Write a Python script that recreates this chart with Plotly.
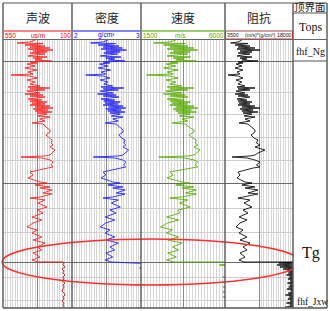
import numpy as np
import plotly.graph_objects as go

W, H = 330, 311

# ---------------- data (relative depth, m; 0 = top of window) ----------------
depth = [0, 2, 3, 3.5, 4, 5, 6, 7, 8, 9,
         10, 11, 12, 13, 14, 15, 16, 17, 18, 19,
         20, 21, 22, 23, 24, 26, 28, 30, 32, 34,
         35, 36, 38, 40, 42, 44, 46, 47, 48, 49,
         50, 51, 53, 54, 55, 56, 57, 59, 60, 61,
         62, 63, 64, 65, 66, 67, 68, 69, 70, 71,
         72, 73, 74, 76, 77, 79, 81, 82, 83, 84,
         86, 88, 90, 92, 95, 98, 100, 103, 105, 107,
         110, 113, 115, 116, 117, 117.5, 118, 120, 122, 125,
         127, 128, 130, 132, 135, 138, 140, 142, 143, 145,
         147, 148, 150, 153, 154, 157, 158, 160, 163, 167,
         170, 173, 177, 180, 183, 187, 190, 193, 197, 200,
         203, 207, 210, 213, 217, 220, 222]

sonic = [341, 374, 459, 289, 309, 407, 276, 374, 243, 387,
         224, 354, 263, 374, 276, 341, 387, 263, 354, 296,
         341, 230, 374, 328, 394, 341, 407, 328, 387, 354,
         498, 374, 328, 394, 341, 374, 309, 387, 243, 374,
         276, 394, 309, 407, 289, 374, 276, 387, 296, 374,
         263, 361, 276, 374, 243, 341, 224, 354, 257, 341,
         230, 328, 263, 322, 243, 309, 276, 322, 361, 289,
         276, 263, 243, 243, 270, 250, 230, 237, 224, 243,
         211, 230, 243, 276, 433, 354, 296, 243, 224, 237,
         224, 257, 322, 374, 354, 387, 348, 309, 263, 341,
         243, 309, 230, 289, 230, 309, 374, 276, 322, 263,
         328, 289, 361, 296, 354, 394, 328, 361, 296, 354,
         276, 328, 296, 354, 309, 361, 322]

density = [2.52, 2.45, 2.27, 2.63, 2.60, 2.38, 2.68, 2.45, 2.73, 2.42,
           2.79, 2.49, 2.70, 2.46, 2.66, 2.52, 2.41, 2.71, 2.49, 2.62,
           2.53, 2.77, 2.45, 2.55, 2.40, 2.52, 2.38, 2.56, 2.42, 2.49,
           2.20, 2.45, 2.55, 2.41, 2.52, 2.46, 2.59, 2.42, 2.75, 2.45,
           2.67, 2.41, 2.60, 2.37, 2.64, 2.45, 2.68, 2.42, 2.62, 2.46,
           2.70, 2.48, 2.67, 2.45, 2.74, 2.53, 2.78, 2.49, 2.71, 2.52,
           2.77, 2.55, 2.70, 2.57, 2.74, 2.59, 2.67, 2.57, 2.48, 2.64,
           2.67, 2.70, 2.74, 2.74, 2.68, 2.72, 2.77, 2.75, 2.78, 2.74,
           2.82, 2.77, 2.74, 2.67, 2.31, 2.49, 2.62, 2.74, 2.78, 2.75,
           2.78, 2.71, 2.57, 2.45, 2.49, 2.42, 2.51, 2.59, 2.70, 2.52,
           2.74, 2.59, 2.77, 2.64, 2.77, 2.59, 2.45, 2.67, 2.57, 2.70,
           2.55, 2.64, 2.48, 2.62, 2.49, 2.41, 2.55, 2.48, 2.62, 2.49,
           2.67, 2.55, 2.62, 2.49, 2.59, 2.48, 2.57]

velocity = [3360, 3040, 2190, 3880, 3690, 2710, 4010, 3040, 4340, 2900,
            4540, 3230, 4140, 3040, 4010, 3360, 2900, 4140, 3230, 3820,
            3360, 4470, 3040, 3490, 2840, 3360, 2710, 3490, 2900, 3230,
            1800, 3040, 3490, 2840, 3360, 3040, 3690, 2900, 4340, 3040,
            4010, 2840, 3690, 2710, 3880, 3040, 4010, 2900, 3820, 3040,
            4140, 3170, 4010, 3040, 4340, 3360, 4540, 3230, 4210, 3360,
            4470, 3490, 4140, 3560, 4340, 3690, 4010, 3560, 3170, 3880,
            4010, 4140, 4340, 4340, 4080, 4270, 4470, 4400, 4540, 4340,
            4670, 4470, 4340, 4010, 2450, 3230, 3820, 4340, 4540, 4400,
            4540, 4210, 3560, 3040, 3230, 2900, 3300, 3690, 4140, 3360,
            4340, 3690, 4470, 3880, 4470, 3690, 3040, 4010, 3560, 4140,
            3490, 3580, 2870, 3520, 2930, 2540, 3190, 2870, 3520, 2930,
            3710, 3190, 3520, 2930, 3390, 2870, 3260]

impedance = [7100, 6280, 4700, 8400, 7760, 5630, 8830, 6280, 9900, 6060,
             10960, 6700, 9260, 6280, 8830, 7100, 6060, 9260, 6700, 8200,
             7100, 10540, 6280, 7340, 5850, 7100, 5630, 7340, 6060, 6700,
             4140, 6280, 7340, 5850, 7100, 6280, 7760, 6060, 9900, 6280,
             8830, 5850, 7760, 5630, 8400, 6280, 8830, 6060, 8200, 6280,
             9260, 6500, 8830, 6280, 9900, 7100, 10960, 6700, 9500, 7100,
             10540, 7340, 9260, 7550, 9900, 7760, 8830, 7550, 6500, 8400,
             8830, 9260, 9900, 9900, 9050, 9700, 10540, 10200, 10960, 9900,
             12000, 10540, 9900, 8830, 5000, 6700, 8200, 9900, 10960, 10200,
             10960, 9500, 7550, 6280, 6700, 6060, 6900, 7760, 9260, 7100,
             9900, 7760, 10540, 8400, 10540, 7760, 6280, 8830, 7550, 9260,
             7340, 8400, 6500, 8200, 6700, 5850, 7340, 6500, 8200, 6700,
             8830, 7340, 8200, 6700, 7760, 6500, 7550]

# below Tg (fhf_Jxw)
depth_sonic_low = [222, 222, 223, 225, 227, 229, 231, 233, 235, 237, 239, 241, 243,
                   245, 247, 249, 251, 253, 255, 257, 259, 261, 263, 265, 267]
sonic_low = [322, 159, 152, 159, 146, 165, 152, 159, 146, 159, 152, 165, 146,
             159, 152, 159, 165, 152, 146, 159, 152, 165, 152, 159, 152]

depth_density_low = [222, 222, 224, 226, 228, 230]
density_low = [2.57, 2.99, 3.2, 3.3, 2.98, 3.2]

depth_velocity_low = [222, 222, 224, 225, 226, 236, 237, 238, 241, 242, 243,
                      246, 247, 248, 251, 252, 253, 256, 257, 258, 262]
velocity_low = [3260, 6300, 6300, 5700, 6300, 6300, 5880, 6300, 6300, 5880, 6300,
                6300, 5900, 6300, 6300, 5880, 6300, 6300, 5900, 6300, 6300]

depth_imp_low = [222, 222] + list(range(223, 268))
impedance_low = [7550, 19000,
                 15000, 18800, 14600, 18500, 15200, 19000, 15900, 18200, 16800, 18600,
                 17000, 18400, 16600, 18900, 17200, 18300, 16900, 18700, 17400, 18500,
                 16800, 18800, 17300, 18400, 17100, 18900, 16700, 18500, 17500, 18800,
                 17000, 18300, 16400, 18700, 17200, 18500, 16900, 18800, 17400, 18200,
                 16600, 18900, 17300, 18500, 16300]

track_titles = ["声波", "密度", "速度", "阻抗"]
scale_left = ["550", "2", "1500", "3500"]
scale_unit = ["us/m", "g/cm³", "m/s", "(m/s)*(g/cm³)"]
scale_right = ["100", "3", "6000", "18000"]
tops_labels = ["fhf_Ng", "Tg", "fhf_Jxw"]

# ---------------- layout geometry (pixels) ----------------
def px(x):
    return x / W

def py(y):
    return 1 - y / H

TOP, HDR, DATA_TOP, BOT = 3, 31, 40, 308
edges = [3, 72, 141, 225, 293]
RIGHT = 327
ranges = [[550, 100], [2, 3], [1500, 6000], [3500, 18000]]
colors = ["#ff1a1a", "#1a1aff", "#55aa00", "#000000"]
scale_line_colors = ["#ff5a5a", "#5a5aff", "#77c040", "#a04848"]
label_colors = ["#ff0000", "#0000ff", "#55aa00", "#111111"]

fig = go.Figure()

curves = [(sonic, depth, "x", colors[0]), (sonic_low, depth_sonic_low, "x", "#dd0000"),
          (density, depth, "x2", colors[1]), (density_low, depth_density_low, "x2", colors[1]),
          (velocity, depth, "x3", colors[2]), (velocity_low, depth_velocity_low, "x3", colors[2]),
          (impedance, depth, "x4", colors[3]), (impedance_low, depth_imp_low, "x4", colors[3])]
for xs, ds, xa, c in curves:
    fig.add_trace(go.Scatter(x=xs, y=ds, xaxis=xa, yaxis="y", mode="lines",
                             line=dict(color=c, width=0.85), showlegend=False,
                             hoverinfo="skip"))

layout = dict(width=W, height=H, margin=dict(l=0, r=0, t=0, b=0),
              paper_bgcolor="white", plot_bgcolor="white", showlegend=False)

ydom = [py(BOT), py(DATA_TOP)]
layout["yaxis"] = dict(domain=ydom, range=[268, 0], anchor="x",
                       tickmode="array", tickvals=[21, 143, 222],
                       showgrid=True, gridcolor="#6a6a6a", gridwidth=1,
                       showticklabels=False, zeroline=False, showline=False, ticks="",
                       minor=dict(tickmode="array", tickvals=[52, 74, 97, 120, 168, 192, 237, 260],
                                  showgrid=True, gridcolor="#cfcfcf", gridwidth=1, ticks=""))

for i in range(4):
    r = ranges[i]
    mid = (r[0] + r[1]) / 2
    minor_vals = list(np.linspace(r[0], r[1], 29)[1:-1])
    if i == 3:
        minor_vals = list(np.linspace(mid, r[1], 15)[1:-1])
    key = "xaxis" if i == 0 else f"xaxis{i+1}"
    layout[key] = dict(domain=[px(edges[i]), px(edges[i + 1])],
                       range=r, anchor="y", tickmode="array", tickvals=[mid],
                       showgrid=True, gridcolor="#8a8a8a", gridwidth=1,
                       showticklabels=False, zeroline=False, showline=False, ticks="",
                       minor=dict(tickmode="array", tickvals=minor_vals, showgrid=True,
                                  gridcolor="#d6d6d6", gridwidth=1, ticks=""))

shapes = []
def line(x0, y0, x1, y1, color="#555555", width=1.2):
    shapes.append(dict(type="line", xref="paper", yref="paper", x0=px(x0), y0=py(y0),
                       x1=px(x1), y1=py(y1), line=dict(color=color, width=width)))

# red ellipse around Tg
shapes.append(dict(type="circle", xref="paper", yref="paper", x0=px(2), x1=px(300),
                   y0=py(285), y1=py(239), line=dict(color="#ff3030", width=1.4)))
# tops column background covers ellipse end
shapes.append(dict(type="rect", xref="paper", yref="paper", x0=px(293.6), x1=px(326.4),
                   y0=py(307.4), y1=py(61.6), fillcolor="white", line=dict(width=0)))

# frame
line(3, TOP, RIGHT, TOP)
line(3, BOT, RIGHT, BOT, width=1.5)
for e in edges + [RIGHT]:
    line(e, TOP, e, BOT, width=1.4)
line(3, 39.5, RIGHT, 39.5, color="#666666", width=1.2)
line(293, 13, RIGHT, 13)
line(293, 61, RIGHT, 61)
# scale lines
for i in range(3):
    line(edges[i] + 0.5, HDR, edges[i + 1] - 0.5, HDR, color=scale_line_colors[i], width=1.5)
shapes.append(dict(type="rect", xref="paper", yref="paper", x0=px(225.5), x1=px(292.5),
                   y0=py(39), y1=py(HDR), line=dict(color=scale_line_colors[3], width=1)))
layout["shapes"] = shapes

ann = []
def text(x, y, s, size, color="#222222", family="Noto Sans CJK SC", xanchor="center"):
    ann.append(dict(x=px(x), y=py(y), xref="paper", yref="paper", text=s, showarrow=False,
                    xanchor=xanchor, yanchor="middle", borderpad=0,
                    font=dict(size=size, color=color, family=family)))

narrow = "Liberation Sans Narrow, Arial Narrow, Liberation Sans, sans-serif"
for i in range(4):
    x0, x1 = edges[i], edges[i + 1]
    fs = 6.5 if i < 3 else 5.2
    text((x0 + x1) / 2 - (3 if i == 2 else 0) + (1 if i == 3 else 0), 35.3, scale_unit[i], fs,
         label_colors[i], narrow)
    text(x0 + 0.5, 35.3, scale_left[i], fs, label_colors[i], narrow, "left")
    text(x1 - 0.5, 35.3, scale_right[i], fs, label_colors[i], narrow, "right")
    text((x0 + x1) / 2, 17, track_titles[i], 12)

serif = "Liberation Serif, Times New Roman, serif"
text(310, 7, "顶界面", 10.5)
text(310, 27, "Tops", 12, "#111111", serif)
text(310, 51, tops_labels[0], 10, "#111111", serif)
text(311, 253, tops_labels[1], 16, "#111111", serif)
text(296, 302, tops_labels[2], 9.5, "#111111", serif, "left")
layout["annotations"] = ann

fig.update_layout(**layout)
fig.write_html("out.html", config={"displayModeBar": False},
               post_script="document.body.style.margin='0';document.body.style.padding='0';")
